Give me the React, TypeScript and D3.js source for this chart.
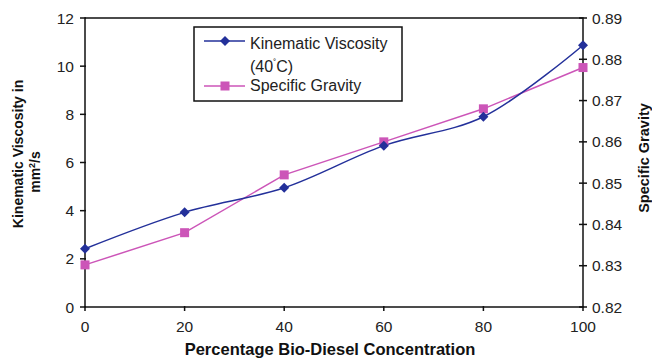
import React from 'react';
import * as d3 from 'd3';

const concentration = [0, 20, 40, 60, 80, 100];
const viscosity = [2.42, 3.93, 4.95, 6.7, 7.9, 10.87];
const gravity = [0.8302, 0.838, 0.852, 0.86, 0.868, 0.878];
const leftTicks = [0, 2, 4, 6, 8, 10, 12];
const rightTicks = [0.82, 0.83, 0.84, 0.85, 0.86, 0.87, 0.88, 0.89];

const blue = '#23309a';
const pink = '#cc55b8';
const font = 'Liberation Sans, Arial, sans-serif';

export default function App() {
  const left = 85, right = 583, top = 18, bottom = 307;

  const x = d3.scaleLinear().domain([0, 100]).range([left, right]);
  const yL = d3.scaleLinear().domain([0, 12]).range([bottom, top]);
  const yR = d3.scaleLinear().domain([0.82, 0.89]).range([bottom, top]);

  const viscLine = d3.line<number>()
    .x((_, i) => x(concentration[i]))
    .y(d => yL(d))
    .curve(d3.curveCatmullRom.alpha(0.5));
  const gravLine = d3.line<number>()
    .x((_, i) => x(concentration[i]))
    .y(d => yR(d));

  const diamond = (cx: number, cy: number, r: number) =>
    `M${cx},${cy - r}L${cx + r},${cy}L${cx},${cy + r}L${cx - r},${cy}Z`;

  return (
    <svg width={652} height={358} style={{ display: 'block', position: 'absolute', left: 0, top: 0, background: '#fff' }} fontFamily={font}>
      <rect x={0} y={0} width={652} height={358} fill="#fff" />
      {/* frame */}
      <rect x={left} y={top} width={right - left} height={bottom - top} fill="none" stroke="#111" strokeWidth={1.5} />

      {/* left axis */}
      {leftTicks.map(t => (
        <g key={'l' + t}>
          <line x1={left - 5} x2={left + 1} y1={yL(t)} y2={yL(t)} stroke="#111" strokeWidth={1.5} />
          <text x={74} y={yL(t) + 5.5} textAnchor="end" fontSize={15.5} fill="#222">{t}</text>
        </g>
      ))}

      {/* right axis */}
      {rightTicks.map(t => (
        <g key={'r' + t}>
          <line x1={right - 4} x2={right + 4} y1={yR(t)} y2={yR(t)} stroke="#111" strokeWidth={1.5} />
          <text x={592} y={yR(t) + 5.5} textAnchor="start" fontSize={15.5} fill="#222">{t.toFixed(2)}</text>
        </g>
      ))}

      {/* bottom axis */}
      {concentration.map(t => (
        <g key={'b' + t}>
          <line x1={x(t)} x2={x(t)} y1={bottom - 1} y2={bottom + 4} stroke="#111" strokeWidth={1.5} />
          <text x={x(t)} y={332} textAnchor="middle" fontSize={15.5} fill="#222">{t}</text>
        </g>
      ))}

      {/* axis titles */}
      <text transform="translate(23,154) rotate(-90)" textAnchor="middle" fontSize={14} fontWeight="bold" fill="#111">Kinematic Viscosity in</text>
      <text transform="translate(40,172) rotate(-90)" textAnchor="middle" fontSize={14} fontWeight="bold" fill="#111">
        mm<tspan fontSize={9} dy={-5}>2</tspan><tspan dy={5}>/s</tspan>
      </text>
      <text transform="translate(649,158) rotate(-90)" textAnchor="middle" fontSize={14.5} fontWeight="bold" fill="#111">Specific Gravity</text>
      <text x={330} y={355} textAnchor="middle" fontSize={16.5} fontWeight="bold" fill="#111">Percentage Bio-Diesel Concentration</text>

      {/* series */}
      <path d={gravLine(gravity) || ''} fill="none" stroke={pink} strokeWidth={1.5} />
      <path d={viscLine(viscosity) || ''} fill="none" stroke={blue} strokeWidth={1.5} />
      {gravity.map((v, i) => (
        <rect key={'g' + i} x={x(concentration[i]) - 4.5} y={yR(v) - 4.5} width={9} height={9} fill={pink} />
      ))}
      {viscosity.map((v, i) => (
        <path key={'v' + i} d={diamond(x(concentration[i]), yL(v), 5)} fill={blue} />
      ))}

      {/* legend */}
      <rect x={194} y={27} width={208} height={74} fill="#fff" stroke="#111" strokeWidth={1.5} />
      <line x1={204} x2={245} y1={41} y2={41} stroke={blue} strokeWidth={1.5} />
      <path d={diamond(225, 41, 5)} fill={blue} />
      <text x={250} y={49} fontSize={16} fill="#222">Kinematic Viscosity</text>
      <text x={250} y={72} fontSize={16} fill="#222">(40<tspan fontSize={9} dy={-6}>˚</tspan><tspan dy={6}>C)</tspan></text>
      <line x1={204} x2={245} y1={86} y2={86} stroke={pink} strokeWidth={1.5} />
      <rect x={220.5} y={81.5} width={9} height={9} fill={pink} />
      <text x={250} y={91} fontSize={16} fill="#222">Specific Gravity</text>
    </svg>
  );
}
